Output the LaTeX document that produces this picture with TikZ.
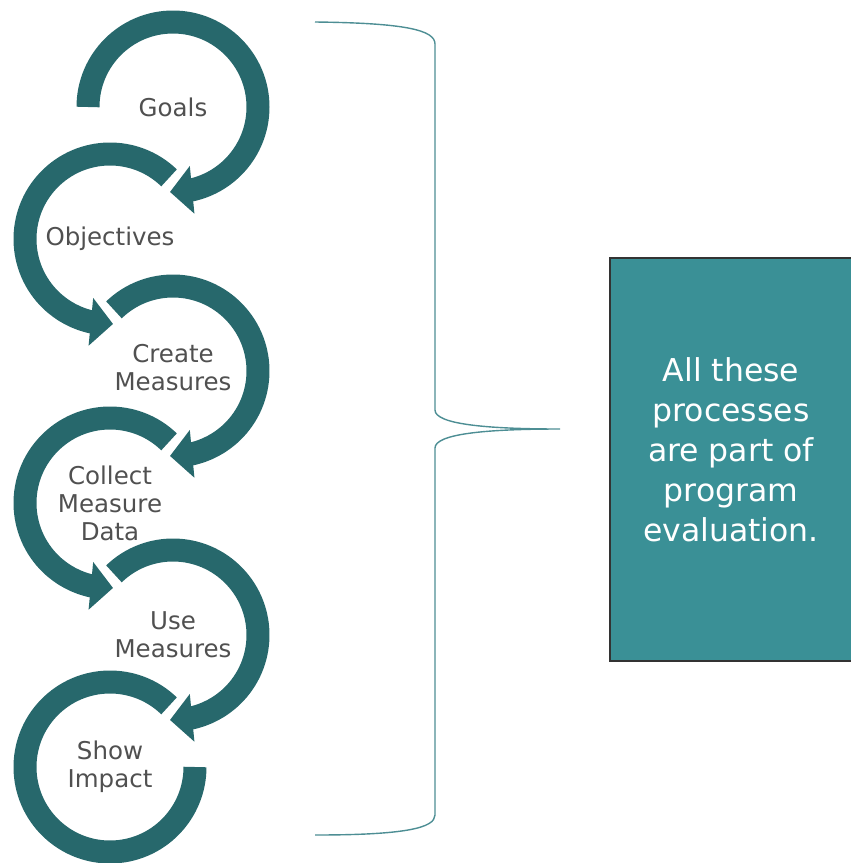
\documentclass[tikz,border=0pt]{standalone}
\usepackage{fontspec}
\setmainfont{DejaVu Sans}
\usetikzlibrary{calc}

\definecolor{ringteal}{HTML}{27686C}
\definecolor{boxteal}{HTML}{3A9096}
\definecolor{bracecol}{HTML}{4D8E94}
\definecolor{labelgray}{HTML}{505050}

\tikzset{
  ring/.style={draw=ringteal, line width=23pt},
  steplabel/.style={text=labelgray, align=center, font=\fontsize{24.5}{28}\selectfont},
  notebox/.style={draw=black!80, line width=1.2pt, fill=boxteal, minimum width=242pt, minimum height=403pt},
  notetext/.style={text=white, align=center, font=\fontsize{31.5}{40}\selectfont},
  brace/.style={draw=bracecol, line width=1.4pt}
}

\begin{document}
\begin{tikzpicture}[x=1pt,y=-1pt]
\useasboundingbox (0,0) rectangle (851,863);

% ring centres
\coordinate (GoalsC) at (173,107);
\coordinate (ObjC) at (110,239);
\coordinate (CreateC) at (173,371);
\coordinate (CollectC) at (110,503);
\coordinate (UseC) at (173,635);
\coordinate (ShowC) at (110,767);

% step labels
\node [steplabel] (goals) at (GoalsC) {Goals};
\node [steplabel] (objectives) at (ObjC) {Objectives};
\node [steplabel] (create) at ($(CreateC)+(0,-3)$) {Create\\Measures};
\node [steplabel] (collect) at (CollectC) {Collect\\Measure\\Data};
\node [steplabel] (use) at (UseC) {Use\\Measures};
\node [steplabel] (show) at (ShowC) {Show\\Impact};

% right hand rings, clockwise
\foreach \c/\s in {GoalsC/180, CreateC/226, UseC/226} {
  \draw [ring] ($(\c)+(\s:85)$) arc [start angle=\s, end angle=438, radius=85];
  \fill [ringteal] ($(\c)+(77:85)+(84.5:24)$) -- ($(\c)+(92:85)$)
    -- ($(\c)+(77:85)+(84.5:-24)$) -- cycle;
}

% left hand rings, counter clockwise
\foreach \c in {ObjC, CollectC} {
  \draw [ring] ($(\c)+(-46:85)$) arc [start angle=-46, end angle=-258, radius=85];
  \fill [ringteal] ($(\c)+(103:85)+(95.5:24)$) -- ($(\c)+(88:85)$)
    -- ($(\c)+(103:85)+(95.5:-24)$) -- cycle;
}
\draw [ring] ($(ShowC)+(-46:85)$) arc [start angle=-46, end angle=-360, radius=85];

% brace
\coordinate (BraceTop) at (315,22);
\coordinate (BraceTip) at (560,429);
\coordinate (BraceBot) at (315,835);
\draw [brace] (BraceTop) .. controls (405,23) and (435,30) .. (435,44)
  -- (435,410) .. controls (435,424) and (485,429) .. (BraceTip)
  .. controls (485,429) and (435,434) .. (435,448)
  -- (435,815) .. controls (435,828) and (405,835) .. (BraceBot);

% note box
\node [notebox] (note) at (731,459.5) {};
\node [notetext] (notetxt) at ($(note)+(0,-10)$) {All these\\processes\\are part of\\program\\evaluation.};

\end{tikzpicture}
\end{document}
